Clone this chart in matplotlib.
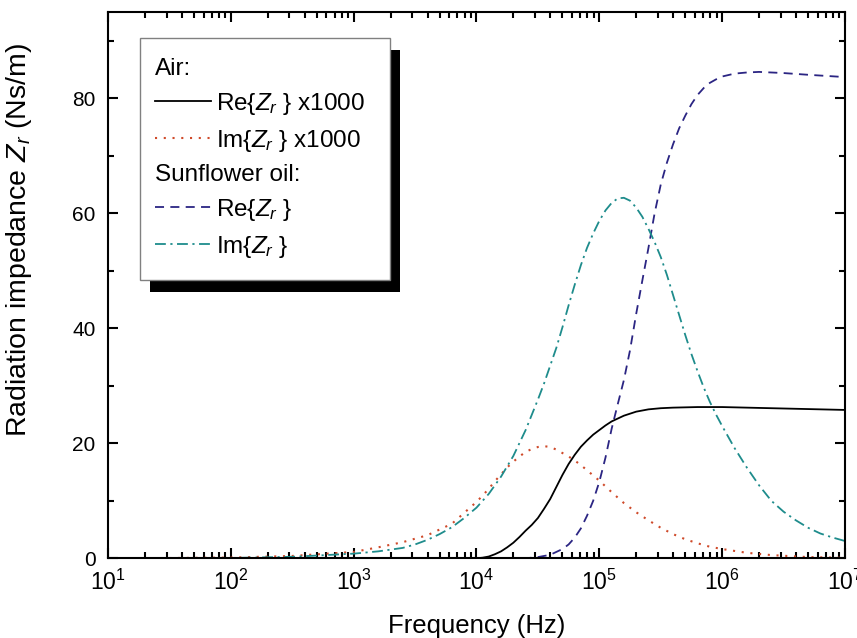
import numpy as np
import matplotlib
matplotlib.use('Agg')
import matplotlib.pyplot as plt
from matplotlib.patches import Rectangle
from matplotlib.ticker import MultipleLocator, LogLocator, NullFormatter

plt.rcParams['font.family'] = ['Liberation Sans', 'DejaVu Sans']
plt.rcParams['mathtext.fontset'] = 'custom'
plt.rcParams['mathtext.rm'] = 'Liberation Sans'
plt.rcParams['mathtext.it'] = 'Liberation Sans:italic'

# air, Re{Zr} x1000  (log10 of frequency, value)
air_re_lf = [1.0, 2.0, 3.0, 3.9, 4.0, 4.05, 4.1, 4.15, 4.2, 4.25, 4.3, 4.35, 4.4, 4.45,
             4.5, 4.55, 4.6, 4.65, 4.7, 4.75, 4.8, 4.85, 4.9, 4.95, 5.0, 5.05, 5.1,
             5.15, 5.2, 5.3, 5.4, 5.5, 5.6, 5.8, 6.0, 6.4, 7.0]
air_re = [0, 0, 0, 0, 0, 0.1, 0.3, 0.7, 1.2, 1.9, 2.7, 3.7, 4.8, 5.8,
          7.0, 8.6, 10.3, 12.4, 14.5, 16.4, 18.0, 19.4, 20.5, 21.5, 22.3, 23.1, 23.8,
          24.3, 24.8, 25.5, 25.9, 26.1, 26.2, 26.3, 26.3, 26.1, 25.8]

# air, Im{Zr} x1000
air_im_lf = [1.0, 1.5, 2.0, 2.5, 3.0, 3.2, 3.4, 3.6, 3.8, 3.9, 4.0, 4.05, 4.1, 4.15,
             4.2, 4.25, 4.3, 4.35, 4.4, 4.45, 4.5, 4.55, 4.6, 4.65, 4.7, 4.75, 4.8,
             4.85, 4.9, 4.95, 5.0, 5.1, 5.2, 5.3, 5.4, 5.5, 5.6, 5.7, 5.8, 5.9, 6.0,
             6.2, 6.4, 6.7, 7.0]
air_im = [0.01, 0.04, 0.12, 0.4, 1.1, 1.9, 2.8, 4.0, 6.0, 7.9, 9.8, 10.9, 12.1, 13.4,
          14.6, 15.8, 16.8, 17.7, 18.5, 19.0, 19.35, 19.5, 19.35, 18.9, 18.3, 17.7, 17.0,
          16.2, 15.3, 14.4, 13.5, 11.5, 9.6, 8.0, 6.6, 5.3, 4.2, 3.3, 2.6, 2.0, 1.6,
          0.95, 0.55, 0.2, 0.08]

# sunflower oil, Re{Zr}
oil_re_lf = [1.0, 2.0, 3.0, 4.0, 4.4, 4.5, 4.6, 4.7, 4.75, 4.8, 4.85, 4.9, 4.95, 5.0,
             5.05, 5.1, 5.15, 5.2, 5.25, 5.3, 5.35, 5.4, 5.45, 5.5, 5.55, 5.6, 5.65,
             5.7, 5.75, 5.8, 5.85, 5.9, 5.95, 6.0, 6.1, 6.2, 6.3, 6.4, 6.5, 6.7, 7.0]
oil_re = [0, 0, 0, 0, 0, 0.2, 0.6, 1.6, 2.4, 3.6, 5.2, 7.4, 10.0, 13.3,
          17.5, 22.5, 26.8, 31.0, 36.2, 42.5, 48.3, 54.0, 60.0, 65.0, 68.8, 72.0, 74.8,
          77.0, 79.0, 80.6, 81.8, 82.7, 83.3, 83.8, 84.3, 84.5, 84.6, 84.5, 84.4, 84.1, 83.7]

# sunflower oil, Im{Zr}
oil_im_lf = [1.0, 2.0, 2.5, 3.0, 3.2, 3.4, 3.5, 3.6, 3.7, 3.8, 3.9, 4.0, 4.1, 4.2,
             4.3, 4.4, 4.5, 4.55, 4.6, 4.65, 4.7, 4.75, 4.8, 4.85, 4.9, 4.95, 5.0,
             5.05, 5.1, 5.15, 5.2, 5.25, 5.3, 5.35, 5.4, 5.45, 5.5, 5.55, 5.6, 5.65,
             5.7, 5.75, 5.8, 5.85, 5.9, 5.95, 6.0, 6.1, 6.2, 6.3, 6.4, 6.5, 6.6,
             6.7, 6.8, 6.9, 7.0]
oil_im = [0, 0.05, 0.25, 0.8, 1.2, 1.8, 2.4, 3.2, 4.2, 5.4, 7.0, 8.8, 11.2, 14.2,
          17.8, 22.3, 27.6, 30.4, 33.5, 36.6, 40.2, 44.0, 47.6, 51.0, 54.0, 56.5, 58.7,
          60.5, 61.8, 62.6, 62.7, 62.2, 61.0, 59.4, 57.3, 55.0, 52.4, 49.3, 45.8, 42.3,
          38.8, 35.5, 32.5, 29.7, 27.2, 25.0, 23.0, 19.2, 15.8, 12.7, 10.0, 8.1, 6.6,
          5.3, 4.3, 3.6, 3.0]

c_red = '#cf4a2a'
c_blue = '#2b2583'
c_teal = '#1e8c8c'

fig = plt.figure(figsize=(8.57, 6.38), dpi=100)
ax = fig.add_axes([0.126, 0.125, 0.86, 0.856])

l1, = ax.plot(10 ** np.array(air_re_lf), air_re, color='black', lw=1.3, zorder=3)
l2, = ax.plot(10 ** np.array(air_im_lf), air_im, color=c_red, lw=1.5,
              linestyle=(0, (1, 3.2)), zorder=2)
l3, = ax.plot(10 ** np.array(oil_re_lf), oil_re, color=c_blue, lw=1.3,
              linestyle=(0, (5, 3.5)), zorder=2)
l4, = ax.plot(10 ** np.array(oil_im_lf), oil_im, color=c_teal, lw=1.3,
              linestyle=(0, (6, 2.5, 1.2, 2.5)), zorder=2)

ax.set_xscale('log')
ax.set_xlim(10, 1e7)
ax.set_ylim(0, 95)
ax.yaxis.set_major_locator(MultipleLocator(20))
ax.yaxis.set_minor_locator(MultipleLocator(10))
ax.xaxis.set_major_locator(LogLocator(base=10, numticks=10))
ax.xaxis.set_minor_locator(LogLocator(base=10, subs=np.arange(2, 10), numticks=20))
ax.xaxis.set_minor_formatter(NullFormatter())

ax.tick_params(which='both', direction='in', top=True, right=True, width=1.5)
ax.tick_params(which='major', length=7)
ax.tick_params(which='minor', length=4.5)
ax.tick_params(axis='y', labelsize=15, pad=9)
ax.tick_params(axis='x', labelsize=16.5, pad=8)
for s in ax.spines.values():
    s.set_linewidth(1.5)

ax.set_xlabel('Frequency (Hz)', fontsize=18.5, labelpad=14)
ax.set_ylabel('Radiation impedance $Z_r$ (Ns/m)', fontsize=20.5)
ax.yaxis.set_label_coords(-0.100, 0.582)

# legend frame with shadow
ax.add_patch(Rectangle((0.0570, 0.487), 0.339, 0.443, transform=ax.transAxes,
                       facecolor='black', edgecolor='none', zorder=6))
ax.add_patch(Rectangle((0.0434, 0.509), 0.339, 0.443, transform=ax.transAxes,
                       facecolor='white', edgecolor='#808080', lw=1, zorder=7))

leg1 = ax.legend([l1, l2], ['Re{$Z_r$ } x1000', 'Im{$Z_r$ } x1000'],
                 title='Air:', alignment='left', loc='upper left',
                 bbox_to_anchor=(0.0638, 0.916), frameon=False, fontsize=17.5,
                 title_fontsize=17.5, handlelength=2.3, handletextpad=0.2,
                 labelspacing=0.45, borderpad=0, borderaxespad=0)
leg1.set_zorder(8)
ax.add_artist(leg1)
leg2 = ax.legend([l3, l4], ['Re{$Z_r$ }', 'Im{$Z_r$ }'],
                 title='Sunflower oil:', alignment='left', loc='upper left',
                 bbox_to_anchor=(0.0638, 0.722), frameon=False, fontsize=17.5,
                 title_fontsize=17.5, handlelength=2.3, handletextpad=0.2,
                 labelspacing=0.45, borderpad=0, borderaxespad=0)
leg2.set_zorder(8)

fig.savefig('out.png', dpi=100)
